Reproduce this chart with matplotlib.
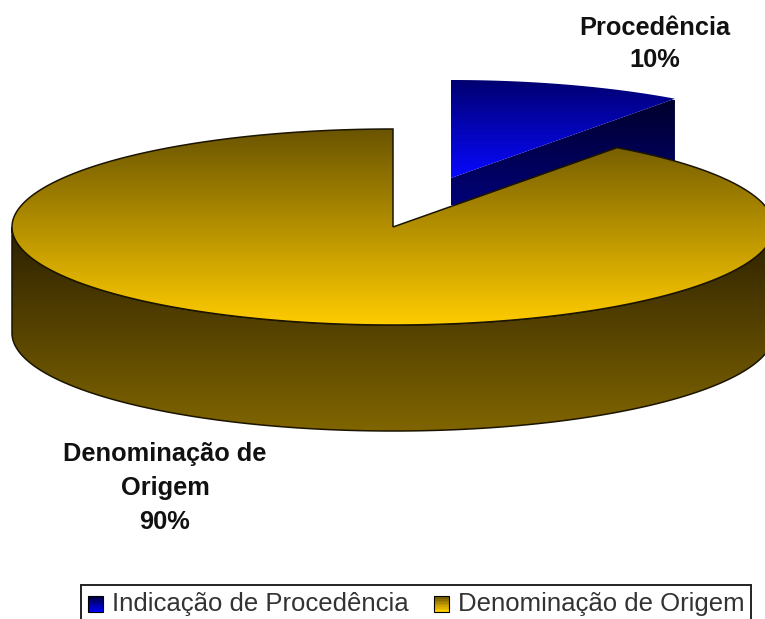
import numpy as np
import matplotlib
matplotlib.use("Agg")
import matplotlib.pyplot as plt
from matplotlib.colors import LinearSegmentedColormap
from matplotlib.legend_handler import HandlerBase
from matplotlib.patches import Patch, Polygon, Rectangle

labels = ["Indicação de Procedência", "Denominação de Origem"]
values = [10, 90]
slice_text = ["Procedência\n10%", "Denominação de\nOrigem\n90%"]

plt.rcParams['font.family'] = ['Liberation Sans', 'DejaVu Sans']

# pie geometry, in pixels
cx, cy = 393, 227
rx, ry = 381, 98
depth = 106
dx, dy = 58, -49     # explode offset of the blue slice


def arc(a0, a1, x0, y0, n=200):
    t = np.radians(np.linspace(a0, a1, n))
    return np.column_stack([x0 + rx*np.cos(t), y0 - ry*np.sin(t)])


def grad_fill(ax, pts, c0, c1, y0, y1, edge=None):
    # vertical gradient clipped by a polygon, c0 at y0 and c1 at y1
    cmap = LinearSegmentedColormap.from_list("g", [c0, c1])
    im = ax.imshow(np.linspace(0, 1, 256).reshape(-1, 1), cmap=cmap, aspect="auto",
                   extent=(0, 765, y1, y0), zorder=ax.zz)
    poly = Polygon(pts, closed=True, fc="none", ec=edge if edge else "none", lw=1.1, zorder=ax.zz + 0.5)
    ax.add_patch(poly)
    im.set_clip_path(poly)
    ax.zz += 1


class GradHandler(HandlerBase):
    def __init__(self, c0, c1):
        super().__init__()
        self.c0, self.c1 = np.array(matplotlib.colors.to_rgb(c0)), np.array(matplotlib.colors.to_rgb(c1))

    def create_artists(self, legend, orig, x, y, w, h, fs, trans):
        out = []
        n = 10
        for i in range(n):
            c = self.c0 + (self.c1 - self.c0)*i/(n - 1)
            out.append(Rectangle((x, y + h*(n - 1 - i)/n), w, h/n*1.1, fc=c, ec="none", transform=trans))
        out.append(Rectangle((x, y), w, h, fc="none", ec="black", lw=0.8, transform=trans))
        return out


fig = plt.figure(figsize=(7.65, 6.19), dpi=100)
ax = fig.add_axes([0, 0, 1, 1])
ax.zz = 1

# slice angles, clockwise from the top
split = 90 - 360*values[0]/sum(values)

# blue slice
bx, by = cx + dx, cy + dy
rim = arc(split, split, bx, by, 1)[0]
wall = [(bx, by), tuple(rim), (rim[0], rim[1] + depth), (bx, by + depth)]
grad_fill(ax, wall, "#00002c", "#000078", 100, 205)
grad_fill(ax, np.vstack([[bx, by], arc(90, split, bx, by)]), "#000070", "#0808ff", by - ry, by)

# gold slice
side = np.vstack([arc(180, 360, cx, cy), arc(360, 180, cx, cy + depth)])
grad_fill(ax, side, "#2c2000", "#806500", cy, cy + depth + ry, edge="#1a1400")
top = np.vstack([[cx, cy], arc(split, -270, cx, cy, 500)])
grad_fill(ax, top, "#6a5400", "#ffcc00", cy - ry, cy + ry, edge="#1a1400")

ax.text(655, 44, slice_text[0], ha="center", va="center", fontsize=18.3, fontweight="bold",
        color="#111111", linespacing=1.42)
ax.text(165, 488, slice_text[1], ha="center", va="center", fontsize=18.3, fontweight="bold",
        color="#111111", linespacing=1.52)

ax.set_xlim(0, 765)
ax.set_ylim(619, 0)
ax.axis("off")

handles = [Patch(label=labels[0]), Patch(label=labels[1])]
hmap = {handles[0]: GradHandler("#000040", "#0000f0"), handles[1]: GradHandler("#6a5400", "#ffcc00")}
leg = ax.legend(handles=handles, handler_map=hmap, ncol=2, loc="upper left",
                bbox_to_anchor=(81/765, 1 - 585/619), fontsize=18.5, frameon=True, fancybox=False,
                framealpha=1, edgecolor="#222222", borderpad=0.27, handlelength=0.58, handleheight=0.58,
                handletextpad=0.36, columnspacing=0.97, borderaxespad=0)
leg.get_frame().set_linewidth(1.4)
for t in leg.get_texts():
    t.set_color("#333333")

fig.savefig("out.png", dpi=100)
print("done")
